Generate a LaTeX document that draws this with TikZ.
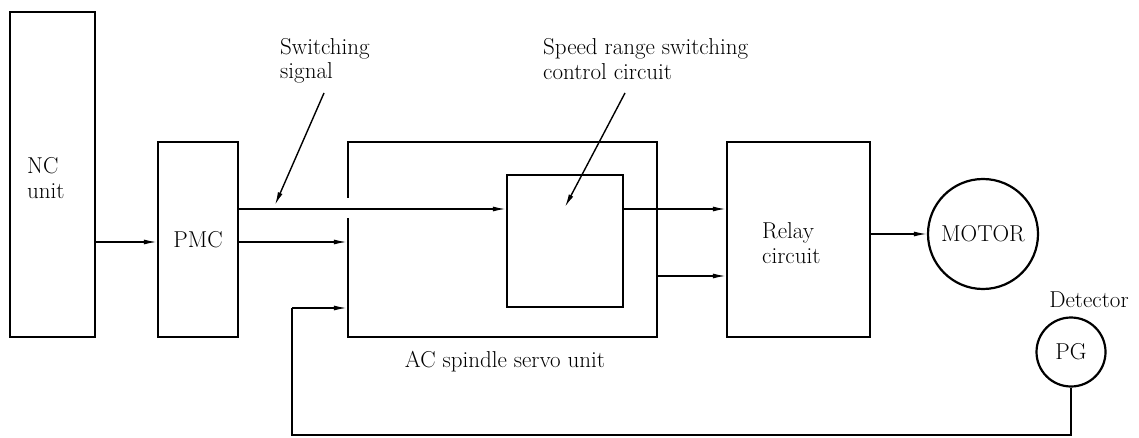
\documentclass[tikz,border=0pt]{standalone}
\usetikzlibrary{arrows.meta,calc}
\begin{document}
\begin{tikzpicture}[x=1pt,y=-1pt,
  every node/.style={font=\fontsize{23}{24.5}\selectfont, inner sep=0pt},
  blk/.style={draw, line width=2.4pt, rectangle},
  circ/.style={draw, line width=2.2pt, circle},
  conn/.style={line width=1.4pt, -{Latex[length=13pt,width=5pt]}},
  wire/.style={line width=1.4pt},
  lbl/.style={align=left}]
\useasboundingbox (0,0) rectangle (1139,438);
% blocks
\node[blk, minimum width=85pt, minimum height=325pt] (NC) at (52.5,174.5) {};
\node[lbl, anchor=west] (NCt) at (27,178) {NC\\unit};
\node[blk, minimum width=80pt, minimum height=195pt] (PMC) at (198,239.5) {PMC};
\node[blk, minimum width=309pt, minimum height=195pt] (AC) at (502.5,239.5) {};
\node[blk, minimum width=116pt, minimum height=132pt] (IN) at (565,241) {};
\node[blk, minimum width=143pt, minimum height=195pt] (RL) at (798.5,239.5) {};
\node[lbl, anchor=west] (RLt) at (762,243) {Relay\\circuit};
\node[circ, minimum size=110pt] (MO) at (983,234) {MOTOR};
\node[circ, minimum size=69pt] (PG) at (1071,352) {PG};
\node (DET) at (1089,300) {Detector};
\node (ACt) at (505,362) {AC spindle servo unit};
\node[lbl, anchor=west] (SWt) at (280,61) {Switching\\signal};
\node[lbl, anchor=west] (SPt) at (543,59) {Speed range switching\\control circuit};
% coordinates
\coordinate (sw) at (238,209);
\coordinate (lo) at (238,242);
\coordinate (ac2) at (657,276);
\coordinate (fbA) at (1071,435);
\coordinate (fbB) at (292,435);
\coordinate (fbC) at (292,308);
\coordinate (a1s) at (324,93);
\coordinate (a1e) at (275,205);
\coordinate (a2s) at (625,93);
\coordinate (a2e) at (565,207);
% connectors
\draw[conn] (NC.east |- lo) -- (PMC.west |- lo);
\draw[conn] (PMC.east |- lo) -- (AC.west |- lo);
\fill[white] ($(AC.west |- sw)+(-3,-11)$) rectangle ($(AC.west |- sw)+(3,9)$);
\draw[conn] (PMC.east |- sw) -- (IN.west |- sw);
\draw[conn] (IN.east |- sw) -- (RL.west |- sw);
\draw[conn] (AC.east |- ac2) -- (RL.west |- ac2);
\draw[conn] (RL.east |- MO.west) -- (MO.west);
\draw[wire] (PG.south) -- (fbA) -- (fbB) -- (fbC);
\draw[conn] (fbC) -- (AC.west |- fbC);
\draw[conn] (a1s) -- (a1e);
\draw[conn] (a2s) -- (a2e);
\end{tikzpicture}
\end{document}
